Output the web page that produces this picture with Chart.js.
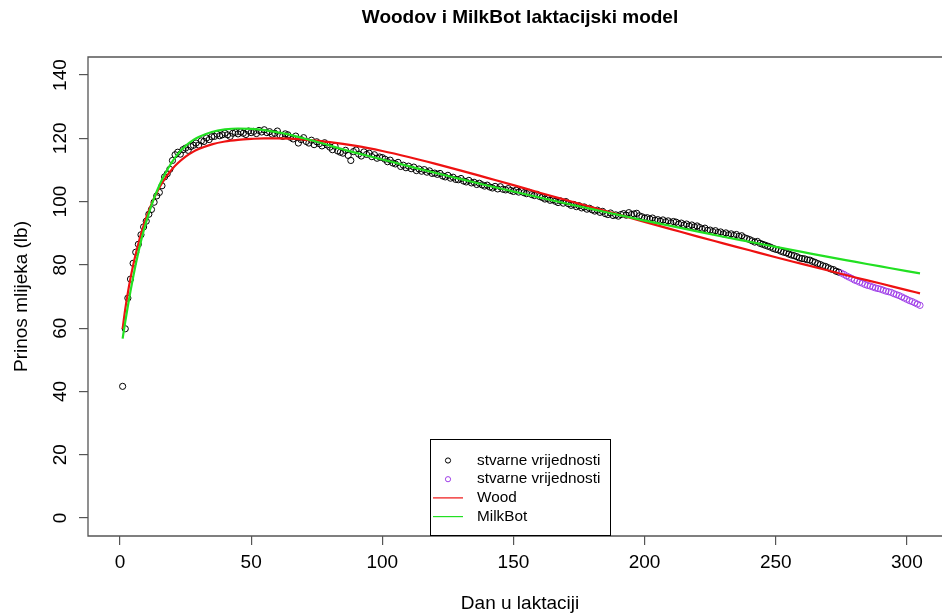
<!DOCTYPE html>
<html><head><meta charset="utf-8">
<script src="https://cdn.jsdelivr.net/npm/chart.js@4.4.1/dist/chart.umd.min.js"></script>
<style>
html,body{margin:0;padding:0;background:#fff;overflow:hidden;width:942px;height:613px}
#wrap{position:absolute;left:0;top:0;width:942px;height:613px;overflow:hidden}
#inner{position:absolute;left:0;top:0;width:1000px;height:613px}
</style>
</head><body>
<div id="wrap"><div id="inner"><canvas id="c" width="1000" height="613"></canvas></div></div>
<script>
// ---- data ----
const chartTitle = "Woodov i MilkBot laktacijski model";
const xTitle = "Dan u laktaciji";
const yTitle = "Prinos mlijeka (lb)";
const xTicks = [0, 50, 100, 150, 200, 250, 300];
const yTicks = [0, 20, 40, 60, 80, 100, 120, 140];
const legendLabels = ["stvarne vrijednosti", "stvarne vrijednosti", "Wood", "MilkBot"];

// observed daily yield, days 1..274 (black)
const observedBlack = [
41.6,59.8,69.5,75.5,80.5,84.0,86.5,89.5,92.0,93.8,96.0,97.5,99.8,101.8,102.9,105.0,107.8,108.8,110.2,113.0,
114.8,115.6,115.0,116.4,116.9,116.2,117.4,117.8,118.5,117.9,119.2,119.0,120.1,119.6,120.5,120.6,121.3,120.8,121.1,121.6,
121.1,120.6,121.6,121.9,121.4,122.0,121.6,121.2,122.3,121.8,122.2,121.5,122.5,122.0,122.7,121.8,122.1,121.3,121.6,122.3,
121.0,120.6,121.4,121.1,120.3,119.8,120.7,118.5,119.6,120.2,119.0,118.5,119.4,118.0,118.9,118.3,117.6,118.6,117.9,117.2,
116.4,117.5,116.0,115.6,115.3,116.2,114.6,113.0,115.8,116.3,115.0,114.4,115.7,114.9,115.3,114.2,114.8,113.7,114.1,113.9,
113.4,112.6,113.1,112.2,111.9,112.4,111.1,111.5,110.7,111.2,110.4,110.9,109.8,110.3,109.6,110.1,109.3,109.7,108.9,109.0,
108.6,108.9,108.1,107.8,108.3,107.4,107.7,107.0,106.9,107.3,106.5,106.2,106.7,105.9,106.1,105.4,105.8,105.3,104.9,105.2,
104.6,104.3,104.8,104.0,104.7,103.9,103.7,104.1,103.5,103.2,103.6,103.0,103.4,102.8,102.5,102.9,102.2,101.9,102.3,101.6,
101.3,100.8,101.0,100.4,100.6,100.1,99.7,100.2,99.5,100.0,99.3,98.8,99.1,98.4,98.7,98.0,98.3,97.6,97.9,97.4,
97.0,97.3,96.6,96.9,96.2,95.9,96.4,95.6,95.8,95.4,95.9,96.2,95.7,96.5,95.9,96.1,96.3,95.5,95.2,94.8,
94.9,94.5,94.8,94.1,94.3,93.8,94.2,93.6,93.9,93.3,93.7,93.5,92.9,93.2,92.6,92.9,92.3,92.6,92.0,92.3,
91.8,91.3,91.6,90.9,91.0,90.5,90.8,90.2,90.4,89.8,90.1,89.5,89.8,89.3,89.6,89.0,89.2,88.6,88.3,88.0,
87.6,87.2,87.4,86.8,86.5,86.2,85.9,85.6,85.2,84.9,84.7,84.3,84.0,83.8,83.4,83.1,82.9,82.6,82.2,82.0,
81.9,81.6,81.5,81.1,80.8,80.4,80.1,79.7,79.5,79.1,78.7,78.5,78.0,77.7
];
const blackStartDay = 1;
// observed daily yield, days 275..305 (purple)
const observedPurple = [
77.4,77.0,76.5,76.1,75.7,75.2,74.9,74.5,74.2,73.8,73.5,73.3,73.0,72.7,72.5,72.3,72.0,71.7,71.5,71.3,
70.9,70.6,70.3,69.9,69.5,69.1,68.7,68.4,68.0,67.6,67.2
];
const purpleStartDay = 275;

// Wood model curve
const woodDays = [1,2,3,4,5,6,7,8,9,10,11,12,13,14,15,16,17,18,19,20,22,25,28,30,35,40,45,50,55,60,65,70,80,90,100,110,120,130,140,150,160,170,180,190,200,210,220,230,240,250,260,270,280,290,300,305];
const woodValues = [59.8,66.0,71.2,75.8,79.8,83.4,86.7,89.7,92.4,94.9,97.1,99.2,101.1,102.8,104.4,105.8,107.1,108.3,109.4,110.4,112.1,114.2,115.8,116.6,118.1,119.0,119.5,119.8,120.0,120.0,119.9,119.6,118.8,117.6,116.0,114.1,112.0,109.8,107.5,105.2,102.8,100.5,98.2,95.9,93.6,91.3,89.0,86.8,84.6,82.4,80.3,78.2,76.1,74.1,72.0,71.0];

// MilkBot model curve
const milkbotDays = [1,2,3,4,5,6,7,8,9,10,11,12,13,14,15,16,17,18,19,20,22,25,28,30,35,40,45,50,55,60,65,70,75,80,85,90,100,110,120,130,140,150,160,170,180,190,200,210,220,230,240,250,260,270,280,290,300,305];
const milkbotValues = [56.7,62.0,67.0,71.7,76.1,80.2,84.0,87.5,90.7,93.6,96.3,98.8,101.1,103.2,105.1,106.9,108.5,110.0,111.4,112.7,115.0,117.6,119.5,120.4,122.0,122.8,123.1,123.0,122.6,121.9,121.1,120.0,118.9,117.7,116.5,115.4,113.3,111.2,109.1,107.1,105.1,103.2,101.3,99.4,97.6,95.8,94.0,92.3,90.6,88.9,87.3,85.7,84.1,82.5,81.0,79.5,78.0,77.3];

// ---- styles ----
const COL_BLACK = '#000000';
const COL_PURPLE = '#A040E8';
const COL_RED = '#EE1111';
const COL_GREEN = '#22E022';
const FONT = "'Liberation Sans', Arial, sans-serif";

const toXY = (days, vals) => vals.map((v, i) => ({x: days[i], y: v}));
const blackPts = observedBlack.map((v, i) => ({x: blackStartDay + i, y: v}));
const purplePts = observedPurple.map((v, i) => ({x: purpleStartDay + i, y: v}));

const rPlugin = {
  id: 'rframe',
  afterDraw(chart) {
    const ctx = chart.ctx, a = chart.chartArea;
    ctx.save();
    // box (right side lies beyond the visible area)
    ctx.strokeStyle = '#555';
    ctx.lineWidth = 1.3;
    ctx.beginPath();
    ctx.moveTo(a.right + 20, a.top);
    ctx.lineTo(a.left, a.top);
    ctx.lineTo(a.left, a.bottom);
    ctx.lineTo(a.right + 20, a.bottom);
    ctx.stroke();
    const cx = (a.left + a.right) / 2;
    ctx.fillStyle = '#000';
    // title
    ctx.font = "bold 19px " + FONT;
    ctx.textAlign = 'center';
    ctx.textBaseline = 'alphabetic';
    ctx.fillText(chartTitle, cx, 23);
    // x title
    ctx.font = "19px " + FONT;
    ctx.fillText(xTitle, cx, 609);
    // y title
    ctx.save();
    ctx.translate(27, (a.top + a.bottom) / 2);
    ctx.rotate(-Math.PI / 2);
    ctx.fillText(yTitle, 0, 0);
    ctx.restore();
    // legend
    const L = 430, T = 439, R = 610, B = 535;
    ctx.fillStyle = '#fff';
    ctx.fillRect(L, T, R - L, B - T);
    ctx.strokeStyle = '#000';
    ctx.lineWidth = 1;
    ctx.strokeRect(L + 0.5, T + 0.5, R - L, B - T);
    const rows = [460.5, 479.2, 497.9, 516.6];
    const textX = 477, symX = 448, lineX0 = 433, lineX1 = 463;
    ctx.font = "15.3px " + FONT;
    ctx.textAlign = 'left';
    ctx.textBaseline = 'middle';
    [COL_BLACK, COL_PURPLE].forEach((c, i) => {
      ctx.beginPath();
      ctx.strokeStyle = c;
      ctx.lineWidth = 1;
      ctx.arc(symX, rows[i], 2.6, 0, Math.PI * 2);
      ctx.stroke();
    });
    [COL_RED, COL_GREEN].forEach((c, i) => {
      ctx.beginPath();
      ctx.strokeStyle = c;
      ctx.lineWidth = 1.2;
      ctx.moveTo(lineX0, rows[i + 2]);
      ctx.lineTo(lineX1, rows[i + 2]);
      ctx.stroke();
    });
    ctx.fillStyle = '#000';
    legendLabels.forEach((t, i) => ctx.fillText(t, textX, rows[i]));
    ctx.restore();
  }
};

new Chart(document.getElementById('c'), {
  type: 'line',
  data: {
    datasets: [
      {label: 'black', data: blackPts, showLine: false, pointStyle: 'circle', pointRadius: 3.1,
       pointBorderWidth: 1, borderColor: COL_BLACK, pointBackgroundColor: 'rgba(0,0,0,0)', order: 3},
      {label: 'purple', data: purplePts, showLine: false, pointStyle: 'circle', pointRadius: 3.1,
       pointBorderWidth: 1, borderColor: COL_PURPLE, pointBackgroundColor: 'rgba(0,0,0,0)', order: 2},
      {label: 'Wood', data: toXY(woodDays, woodValues), borderColor: COL_RED, borderWidth: 2.2,
       pointRadius: 0, cubicInterpolationMode: 'monotone', fill: false, order: 1},
      {label: 'MilkBot', data: toXY(milkbotDays, milkbotValues), borderColor: COL_GREEN, borderWidth: 2.2,
       pointRadius: 0, cubicInterpolationMode: 'monotone', fill: false, order: 0}
    ]
  },
  options: {
    responsive: false,
    animation: false,
    devicePixelRatio: 1,
    layout: {padding: {left: 0, top: 57, right: 48, bottom: 0}},
    plugins: {legend: {display: false}, tooltip: {enabled: false}, title: {display: false}},
    scales: {
      x: {
        type: 'linear', min: -12.2, max: 317.2,
        afterBuildTicks: s => { s.ticks = xTicks.map(v => ({value: v})); },
        afterFit: s => { s.height = 77; },
        grid: {drawOnChartArea: false, drawTicks: true, tickLength: 9, color: '#555', lineWidth: 1.2},
        border: {display: false},
        ticks: {font: {family: FONT, size: 19}, color: '#000', padding: 6, maxRotation: 0, autoSkip: false}
      },
      y: {
        type: 'linear', min: -5.7, max: 145.7,
        afterBuildTicks: s => { s.ticks = yTicks.map(v => ({value: v})); },
        afterFit: s => { s.width = 88; },
        grid: {drawOnChartArea: false, drawTicks: true, tickLength: 9, color: '#555', lineWidth: 1.2},
        border: {display: false},
        ticks: {font: {family: FONT, size: 19}, color: '#000', padding: 2, minRotation: 90, maxRotation: 90,
                crossAlign: 'center', autoSkip: false}
      }
    }
  },
  plugins: [rPlugin]
});
</script>
</body></html>
